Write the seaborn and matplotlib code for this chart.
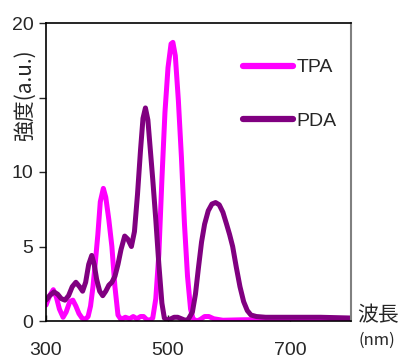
import matplotlib
matplotlib.use("Agg")
import matplotlib.pyplot as plt
import seaborn as sns
import pandas as pd

# ---- data ----
tpa_nm = [300, 306, 312, 317, 322, 328, 333, 339, 344, 349, 354, 359, 364, 369, 373, 377,
          381, 385, 389, 394, 398, 403, 408, 413, 418, 423, 430, 437, 443, 449, 455, 460,
          465, 470, 475, 480, 485, 490, 495, 500, 505, 508, 512, 517, 522, 527, 532, 537,
          541, 547, 553, 560, 567, 575, 590, 620, 660, 720, 800]
tpa_val = [1.07, 1.7, 2.1, 1.6, 0.8, 0.25, 0.6, 1.3, 1.4, 1.0, 0.5, 0.2, 0.1, 0.3, 1.0, 2.3,
           4.0, 5.8, 8.0, 8.9, 8.3, 6.8, 5.0, 2.3, 0.4, 0.1, 0.25, 0.15, 0.3, 0.15, 0.3, 0.3,
           0.1, 0.05, 0.2, 1.5, 4.5, 9.5, 14.0, 17.0, 18.6, 18.7, 17.8, 14.8, 11.0, 6.5, 3.0, 0.8,
           0.15, 0.0, 0.1, 0.3, 0.3, 0.15, 0.05, 0.08, 0.1, 0.1, 0.1]

pda_nm = [300, 306, 313, 319, 325, 331, 337, 343, 349, 355, 360, 365, 370, 375, 379, 383,
          388, 393, 398, 403, 408, 413, 418, 423, 429, 434, 440, 445, 450, 455, 459, 463,
          467, 471, 475, 480, 485, 490, 494, 500, 505, 510, 516, 522, 528, 533, 540, 545,
          550, 555, 560, 566, 572, 578, 584, 590, 596, 601, 606, 612, 618, 624, 630, 636,
          645, 660, 700, 750, 800]
pda_val = [1.4, 1.7, 1.95, 1.8, 1.5, 1.4, 1.7, 2.3, 2.6, 2.3, 2.0, 2.6, 3.8, 4.4, 3.8, 2.8,
           2.0, 1.7, 2.0, 2.4, 2.6, 3.0, 3.8, 4.8, 5.7, 5.5, 5.0, 6.0, 8.5, 11.5, 13.6, 14.3,
           13.5, 11.5, 9.5, 6.8, 3.8, 1.2, 0.2, 0.05, 0.15, 0.25, 0.25, 0.15, 0.05, 0.1, 0.6, 1.8,
           3.6, 5.3, 6.5, 7.4, 7.85, 7.95, 7.8, 7.3, 6.5, 5.8, 5.0, 3.6, 2.3, 1.3, 0.7, 0.4,
           0.3, 0.25, 0.25, 0.25, 0.2]

series_names = ["TPA", "PDA"]
series_colors = ["#FF00FF", "#800080"]
x_ticks = [300, 500, 700]
y_ticks = [0, 5, 10, 15, 20]
y_ticklabels = ["0", "5", "10", "", "20"]

sns.set_style("ticks")
plt.rcParams["font.family"] = ["Liberation Sans", "Noto Sans CJK JP", "DejaVu Sans"]

fig = plt.figure(figsize=(3.99, 3.58), dpi=100)
ax = fig.add_axes([46 / 399, 1 - 321 / 358, (351 - 46) / 399, (321 - 23) / 358])

df_t = pd.DataFrame({"nm": tpa_nm, "val": tpa_val})
df_p = pd.DataFrame({"nm": pda_nm, "val": pda_val})
sns.lineplot(data=df_t, x="nm", y="val", ax=ax, color=series_colors[0], lw=3.6,
             label=series_names[0], solid_capstyle="round", solid_joinstyle="round")
sns.lineplot(data=df_p, x="nm", y="val", ax=ax, color=series_colors[1], lw=3.6,
             label=series_names[1], solid_capstyle="round", solid_joinstyle="round")

ax.set_xlim(300, 800)
ax.set_ylim(0, 20)
ax.set_xticks(x_ticks)
ax.set_xticklabels([str(t) for t in x_ticks], fontsize=14)
ax.set_yticks(y_ticks)
ax.set_yticklabels(y_ticklabels, fontsize=14)
ax.tick_params(axis="x", direction="in", length=4, width=1, pad=15)
ax.tick_params(axis="y", direction="out", length=5, width=1, pad=4)
ax.set_xlabel("")
ax.set_ylabel("")

for s in ["left", "bottom", "top"]:
    ax.spines[s].set_color("black")
    ax.spines[s].set_linewidth(1.2)
ax.spines["right"].set_color("#808080")
ax.spines["right"].set_linewidth(1.5)

leg = ax.legend(loc="upper left", bbox_to_anchor=(0.645, 0.88), frameon=False,
                fontsize=14, handlelength=2.6, handletextpad=0.15, labelspacing=1.85,
                borderpad=0, borderaxespad=0)
for h in leg.get_lines():
    h.set_linewidth(4.5)

fig.text(25 / 399, 1 - 95 / 358, "強度(a.u.)", rotation=90, va="center", ha="center",
         fontsize=15, family=["Noto Sans CJK JP", "DejaVu Sans"])
fig.text(378 / 399, 1 - 315 / 358, "波長", va="center", ha="center",
         fontsize=15, family=["Noto Sans CJK JP", "DejaVu Sans"])
fig.text(377 / 399, 1 - 340 / 358, "(nm)", va="center", ha="center",
         fontsize=12, family=["Noto Sans CJK JP", "DejaVu Sans"])

fig.savefig("out.png", dpi=100)
